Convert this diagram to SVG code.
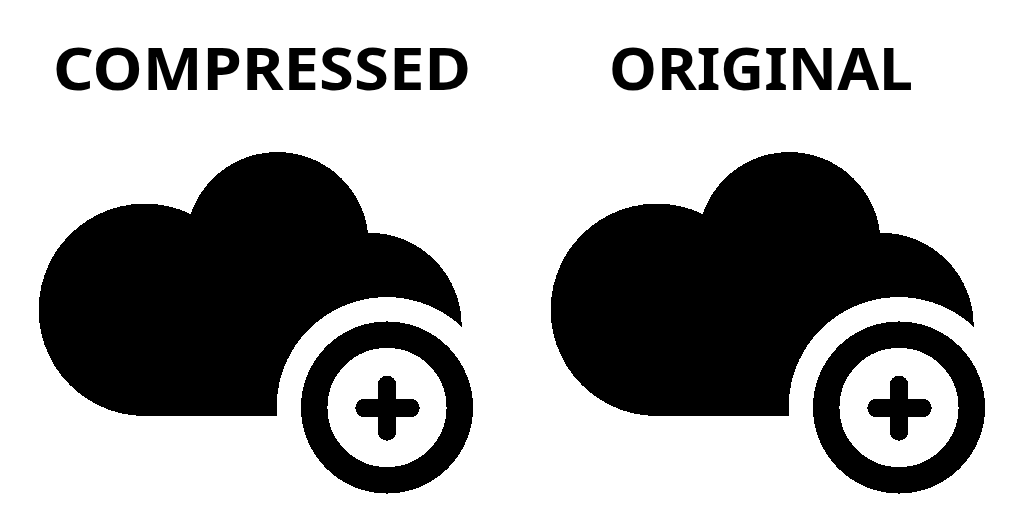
<svg xmlns="http://www.w3.org/2000/svg" width="1024" height="512" viewBox="0 0 1024 512">
<style>
.t{font-family:"Noto Sans","Open Sans","DejaVu Sans",sans-serif;font-weight:700;font-size:60px;fill:#000}
.ring{fill:none;stroke:#000;stroke-width:26.5}
.plus{fill:none;stroke:#000;stroke-width:18.5;stroke-linecap:round}
path,circle{shape-rendering:crispEdges}
</style>
<defs>
<g id="cloud">
<path d="M277 416H144.5A106.2 106.2 0 1 1 190.7 214A91.4 91.4 0 0 1 368 232.7A93 93 0 0 1 461.7 326.7A110 110 0 0 0 277 416Z"/>
<circle class="ring" cx="387" cy="407.5" r="72.8"/>
<path class="plus" d="M364.5 408H410.5M387 385V431.5"/>
</g>
</defs>
<rect width="1024" height="512" fill="#fff"/>
<g id="compressed">
<use href="#cloud"/>
<text class="t" x="53" y="90" textLength="418" lengthAdjust="spacingAndGlyphs">COMPRESSED</text>
</g>
<g id="original">
<use href="#cloud" x="512"/>
<text class="t" x="609" y="90" textLength="304" lengthAdjust="spacingAndGlyphs">ORIGINAL</text>
</g>
</svg>
